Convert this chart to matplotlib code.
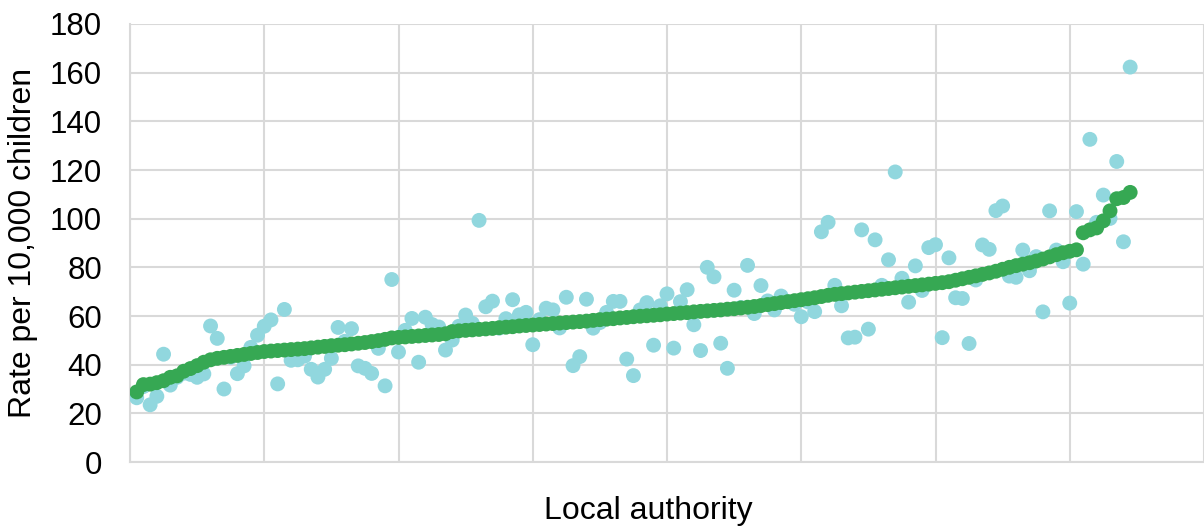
import matplotlib
matplotlib.use("Agg")
import matplotlib.pyplot as plt

plt.rcParams['font.family'] = ['Liberation Sans', 'DejaVu Sans']

# Local authorities ranked by the sorted (green) series
sorted_rate = [
    28.8, 31.8, 32.0, 32.6, 33.4, 34.8, 35.4, 37.3, 38.4, 39.6,
    41.0, 42.0, 42.6, 43.0, 43.4, 43.8, 44.2, 44.6, 45.0, 45.4,
    45.6, 45.8, 46.0, 46.2, 46.4, 46.6, 46.9, 47.2, 47.5, 47.8,
    48.0, 48.2, 48.5, 48.8, 49.1, 49.5, 49.9, 50.4, 51.0, 51.2,
    51.4, 51.6, 51.8, 52.0, 52.2, 52.4, 52.7, 53.6, 53.9, 54.1,
    54.3, 54.5, 54.7, 54.9, 55.2, 55.4, 55.6, 55.9, 56.1, 56.3,
    56.5, 56.7, 56.9, 57.1, 57.3, 57.5, 57.7, 57.9, 58.2, 58.5,
    58.7, 58.9, 59.2, 59.4, 59.7, 59.9, 60.1, 60.3, 60.5, 60.8,
    61.0, 61.2, 61.4, 61.7, 61.9, 62.1, 62.3, 62.5, 62.8, 63.0,
    63.3, 63.6, 63.9, 64.3, 64.7, 65.1, 65.5, 65.9, 66.3, 66.7,
    67.1, 67.5, 68.0, 68.5, 68.9, 69.2, 69.5, 69.8, 70.1, 70.4,
    70.7, 71.0, 71.3, 71.6, 71.9, 72.2, 72.5, 72.8, 73.1, 73.4,
    73.7, 74.1, 74.7, 75.3, 75.9, 76.5, 77.1, 77.7, 78.4, 79.2,
    80.0, 80.7, 81.3, 81.9, 82.6, 83.4, 84.3, 85.2, 86.0, 86.6,
    87.2, 94.2, 95.4, 96.2, 99.1, 103.2, 108.2, 108.7, 110.8,
]

other_rate = [
    26.4, 31.0, 23.5, 27.0, 44.3, 31.6, 34.8, 36.5, 36.0, 34.8,
    36.2, 55.9, 50.8, 30.0, 43.0, 36.3, 39.5, 47.1, 52.1, 55.8,
    58.4, 32.1, 62.7, 41.8, 42.0, 43.5, 38.1, 34.9, 38.1, 42.6,
    55.3, 49.6, 54.8, 39.5, 38.5, 36.4, 46.7, 31.3, 75.0, 45.2,
    54.1, 59.0, 41.0, 59.5, 56.5, 55.5, 46.0, 50.1, 55.8, 60.4,
    57.0, 99.3, 63.8, 66.1, 55.0, 58.9, 66.7, 60.5, 61.5, 48.2,
    58.5, 63.2, 62.5, 55.1, 67.7, 39.6, 43.3, 66.9, 55.0, 57.3,
    61.5, 66.0, 66.0, 42.3, 35.5, 62.5, 65.5, 48.0, 64.2, 69.1,
    46.8, 65.9, 70.8, 56.4, 45.8, 80.0, 76.1, 48.8, 38.5, 70.6,
    63.5, 80.8, 61.0, 72.5, 66.2, 62.5, 68.2, 65.9, 64.8, 59.7,
    65.8, 61.8, 94.6, 98.5, 72.6, 64.2, 51.0, 51.3, 95.4, 54.6,
    91.3, 72.6, 83.1, 119.2, 75.5, 65.7, 80.6, 70.5, 88.1, 89.3,
    51.1, 83.9, 67.5, 67.2, 48.7, 74.8, 89.2, 87.4, 103.3, 105.2,
    76.4, 75.9, 87.1, 78.6, 84.4, 61.7, 103.2, 87.1, 82.3, 65.3,
    102.9, 81.3, 132.6, 98.5, 109.7, 100.1, 123.5, 90.5, 162.3,
]

authority_rank = list(range(1, len(sorted_rate) + 1))
y_ticks = [0, 20, 40, 60, 80, 100, 120, 140, 160, 180]
x_grid = [0, 20, 40, 60, 80, 100, 120, 140, 160]

fig = plt.figure(figsize=(12.04, 5.28), dpi=100)
ax = fig.add_axes([130 / 1204, 66 / 528, 1 - 130 / 1204, (462 - 24) / 528])

ax.scatter(authority_rank, other_rate, s=115, color='#91D7DE', edgecolors='none', zorder=3)
ax.scatter(authority_rank, sorted_rate, s=115, color='#36A853', edgecolors='none', zorder=4)

ax.set_xlim(0, 159.3)
ax.set_ylim(0, 180)
ax.set_yticks(y_ticks)
ax.set_xticks(x_grid)
ax.set_xticklabels([])
ax.tick_params(axis='both', length=0, labelsize=22.5, colors='black')
ax.tick_params(axis='y', pad=20)
ax.grid(True, color='#D9D9D9', linewidth=1.5, zorder=0)
ax.set_axisbelow(True)
for side in ['top', 'right']:
    ax.spines[side].set_visible(False)
for side in ['left', 'bottom']:
    ax.spines[side].set_color('#D9D9D9')
    ax.spines[side].set_linewidth(1.5)

fig.text(23.5 / 1204, 1 - 243 / 528, 'Rate per 10,000 children', fontsize=23,
         rotation=90, ha='center', va='center')
fig.text(648 / 1204, 1 - 511 / 528, 'Local authority', fontsize=23, ha='center', va='center')

fig.savefig('out.png', dpi=100)
